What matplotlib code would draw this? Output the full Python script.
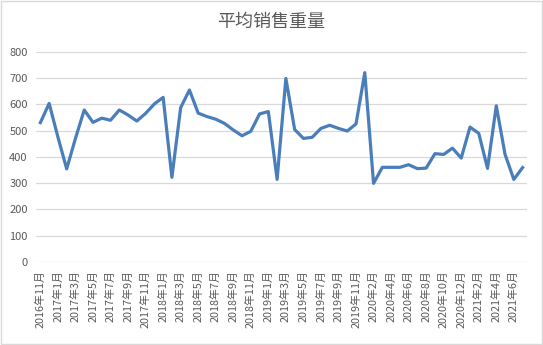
import matplotlib
matplotlib.use("Agg")
import matplotlib.pyplot as plt
from matplotlib.patches import Rectangle

plt.rcParams['font.family'] = ['Noto Sans CJK SC', 'DejaVu Sans']

# months (2020年1月 is missing in the source data)
months = (
    [f"2016年{m}月" for m in (11, 12)]
    + [f"{y}年{m}月" for y in (2017, 2018, 2019) for m in range(1, 13)]
    + [f"2020年{m}月" for m in range(2, 13)]
    + [f"2021年{m}月" for m in range(1, 8)]
)

weights = [
    530, 603, 475, 354, 470, 578, 531, 547, 539, 578, 559, 536,
    565, 601, 626, 322, 587, 654, 566, 553, 543, 527, 502, 480,
    497, 563, 572, 314, 698, 504, 470, 474, 508, 520, 508, 498,
    525, 720, 299, 360, 360, 360, 370, 355, 357, 412, 409, 433,
    395, 513, 489, 356, 594, 409, 314, 359,
]

title = "平均销售重量"
yticks = [0, 100, 200, 300, 400, 500, 600, 700, 800]

fig = plt.figure(figsize=(5.43, 3.45), dpi=100)
ax = fig.add_axes([0.0663, 0.2406, 0.9042, 0.6098])

x = list(range(len(months)))
ax.plot(x, weights, color="#4A7EBB", lw=2.3, solid_joinstyle="round")

ax.set_xlim(-0.5, len(months) - 0.5)
ax.set_ylim(0, 800)
ax.set_yticks(yticks)
ax.set_xticks(x[::2])
ax.set_xticklabels(months[::2], rotation=90, fontsize=7.8, color="#595959")
ax.tick_params(axis="y", labelsize=8, colors="#595959", length=0, pad=6)
ax.tick_params(axis="x", length=0, pad=6)
ax.grid(axis="y", color="#D9D9D9", lw=0.9)
ax.set_axisbelow(True)
for s in ax.spines.values():
    s.set_visible(False)

fig.text(0.5, 0.935, title, ha="center", va="center", fontsize=13, color="#595959")

# chart area border
fig.patches.append(Rectangle((0.002, 0.003), 0.996, 0.994, transform=fig.transFigure,
                             fill=False, ec="#D9D9D9", lw=1))

fig.savefig("out.png", dpi=100)
